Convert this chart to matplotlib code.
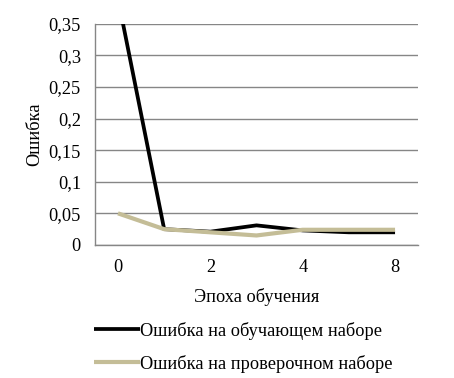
import matplotlib as mpl
mpl.use('Agg')
import matplotlib.pyplot as plt

mpl.rcParams['font.family'] = ['Liberation Serif', 'DejaVu Serif']
mpl.rcParams['font.size'] = 13.2

epochs = ['0', '1', '2', '3', '4', '6', '8']
train_err = [0.39, 0.025, 0.021, 0.031, 0.023, 0.02, 0.02]
valid_err = [0.05, 0.025, 0.02, 0.015, 0.024, 0.024, 0.024]
yticks = [0, 0.05, 0.1, 0.15, 0.2, 0.25, 0.3, 0.35]

fig = plt.figure(figsize=(4.54, 3.78), dpi=100)
ax = fig.add_axes([0.209, 0.352, 0.712, 0.585])

x = list(range(len(epochs)))
ax.plot(x, train_err, color='black', linewidth=2.7, label='Ошибка на обучающем наборе',
        solid_capstyle='butt', zorder=3)
ax.plot(x, valid_err, color='#C4BD97', linewidth=3.0, label='Ошибка на проверочном наборе',
        solid_capstyle='butt', zorder=4)

ax.set_xlim(-0.5, len(epochs) - 0.5)
ax.set_ylim(0, 0.35)
ax.set_yticks(yticks)
ax.set_yticklabels([('%g' % v).replace('.', ',') for v in yticks])
ax.set_xticks(x[::2])
ax.set_xticklabels(epochs[::2])
ax.tick_params(axis='both', length=0, pad=10)
ax.yaxis.grid(True, color='#868686', linewidth=1)
ax.set_axisbelow(True)
for s in ['top', 'right']:
    ax.spines[s].set_visible(False)
for s in ['left', 'bottom']:
    ax.spines[s].set_color('#868686')
    ax.spines[s].set_linewidth(1)

ax.set_xlabel('Эпоха обучения', labelpad=9)
ax.set_ylabel('Ошибка', labelpad=4)

ax.legend(loc='upper left', bbox_to_anchor=(-0.003, -0.348), frameon=False,
          handlelength=2.5, handletextpad=0.0, labelspacing=0.8, borderaxespad=0,
          borderpad=0)

fig.savefig('out.png', dpi=100)
